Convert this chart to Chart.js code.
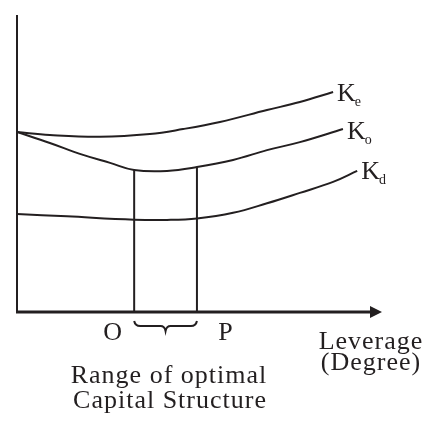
<!DOCTYPE html>
<html>
<head>
<meta charset="utf-8">
<script src="https://cdn.jsdelivr.net/npm/chart.js@4"></script>
<style>
  body { margin: 0; background: #fff; }
  #wrap { width: 426px; height: 421px; }
</style>
</head>
<body>
<div id="wrap"><canvas id="myChart"></canvas></div>
<script>
// leverage (x) and cost of capital (y), 0-100 units
const keX = [0, 9, 22.7, 36.4, 45.5, 55.6, 68.5, 77.5, 86.6]
const keY = [60.6, 59.6, 59.0, 59.9, 61.6, 64.0, 68.0, 70.7, 74.1]
const koX = [0, 9, 18.1, 25.5, 32.1, 41.1, 49.3, 59.2, 68.5, 77.5, 89.3]
const koY = [60.6, 56.9, 52.9, 50.2, 47.8, 47.5, 48.8, 51.2, 54.5, 57.2, 61.6]
const kdX = [0, 13.7, 32.1, 41.1, 49.3, 59.2, 68.5, 77.5, 86.6, 93.2]
const kdY = [33.0, 32.2, 31.1, 31.0, 31.5, 33.4, 36.6, 40.1, 43.8, 47.5]
// optimal range O..P
const optX = [32.1, 49.3]
const optTop = [47.8, 48.8]
const optLabels = ['O', 'P']
const curveLabels = [['K', 'e'], ['K', 'o'], ['K', 'd']]
const axisTitle = ['Leverage', '(Degree)']
const rangeTitle = ['Range of optimal', 'Capital Structure']

const ink = '#231f20'
const serif = '"Liberation Serif", "Times New Roman", serif'

const pts = (xs, ys) => xs.map((x, i) => ({ x: x, y: ys[i] }))

const curve = (data) => ({
    data: data,
    borderColor: ink,
    borderWidth: 2,
    pointRadius: 0,
    tension: 0.4,
    fill: false
})

const vline = (i) => ({
    data: [{ x: optX[i], y: 0 }, { x: optX[i], y: optTop[i] }],
    borderColor: ink,
    borderWidth: 2,
    pointRadius: 0,
    fill: false
})

const extras = {
    id: 'extras',
    afterDraw(chart) {
        const ctx = chart.ctx
        const xs = chart.scales.x
        const ys = chart.scales.y
        const a = chart.chartArea
        const x0 = xs.getPixelForValue(0)
        const y0 = ys.getPixelForValue(0)
        ctx.save()
        ctx.strokeStyle = ink
        ctx.fillStyle = ink
        ctx.lineCap = 'butt'

        // y axis
        ctx.lineWidth = 2
        ctx.beginPath()
        ctx.moveTo(x0, a.top)
        ctx.lineTo(x0, y0 + 1)
        ctx.stroke()

        // x axis with arrow
        ctx.lineWidth = 3
        ctx.beginPath()
        ctx.moveTo(x0 - 1, y0)
        ctx.lineTo(a.right - 10, y0)
        ctx.stroke()
        ctx.beginPath()
        ctx.moveTo(a.right, y0)
        ctx.lineTo(a.right - 12, y0 - 6)
        ctx.lineTo(a.right - 12, y0 + 6)
        ctx.closePath()
        ctx.fill()

        // brace under the optimal range
        const b1 = xs.getPixelForValue(optX[0])
        const b2 = xs.getPixelForValue(optX[1])
        const bm = (b1 + b2) / 2
        const bt = y0 + 9
        ctx.lineWidth = 2
        ctx.beginPath()
        ctx.moveTo(b1, bt)
        ctx.quadraticCurveTo(b1 + 1, bt + 5, b1 + 6, bt + 5)
        ctx.lineTo(bm - 5, bt + 5)
        ctx.quadraticCurveTo(bm - 1, bt + 5, bm, bt + 10)
        ctx.quadraticCurveTo(bm + 1, bt + 5, bm + 5, bt + 5)
        ctx.lineTo(b2 - 6, bt + 5)
        ctx.quadraticCurveTo(b2 - 1, bt + 5, b2, bt)
        ctx.stroke()

        // O and P
        ctx.font = '26px ' + serif
        ctx.letterSpacing = '1px'
        ctx.textAlign = 'center'
        ctx.textBaseline = 'alphabetic'
        ctx.fillText(optLabels[0], b1 - 21, y0 + 28)
        ctx.fillText(optLabels[1], b2 + 29, y0 + 28)

        // axis title and range title
        ctx.fillText(axisTitle[0], 371, y0 + 37)
        ctx.fillText(axisTitle[1], 371, y0 + 58)
        ctx.fillText(rangeTitle[0], 169, y0 + 71)
        ctx.fillText(rangeTitle[1], 170, y0 + 96)

        // curve end labels
        const ends = [
            [keX[keX.length - 1], keY[keY.length - 1], 9],
            [koX[koX.length - 1], koY[koY.length - 1], 10],
            [kdX[kdX.length - 1], kdY[kdY.length - 1], 8]
        ]
        ctx.letterSpacing = '0px'
        ctx.textAlign = 'left'
        ends.forEach((e, i) => {
            const px = xs.getPixelForValue(e[0]) + 4
            const py = ys.getPixelForValue(e[1]) + e[2]
            ctx.font = '26px ' + serif
            ctx.fillText(curveLabels[i][0], px, py)
            const w = ctx.measureText(curveLabels[i][0]).width
            ctx.font = '14px ' + serif
            ctx.fillText(curveLabels[i][1], px + w - 1, py + 5)
        })
        ctx.restore()
    }
}

const config = {
    type: 'line',
    data: {
        datasets: [
            curve(pts(keX, keY)),
            curve(pts(koX, koY)),
            curve(pts(kdX, kdY)),
            vline(0),
            vline(1)
        ]
    },
    options: {
        responsive: true,
        maintainAspectRatio: false,
        animation: false,
        layout: { padding: { left: 17, right: 44, top: 15, bottom: 109 } },
        plugins: { legend: { display: false }, tooltip: { enabled: false } },
        scales: {
            x: { type: 'linear', min: 0, max: 100, display: false },
            y: { type: 'linear', min: 0, max: 100, display: false }
        }
    },
    plugins: [extras]
}

new Chart(document.getElementById('myChart'), config)
</script>
</body>
</html>
